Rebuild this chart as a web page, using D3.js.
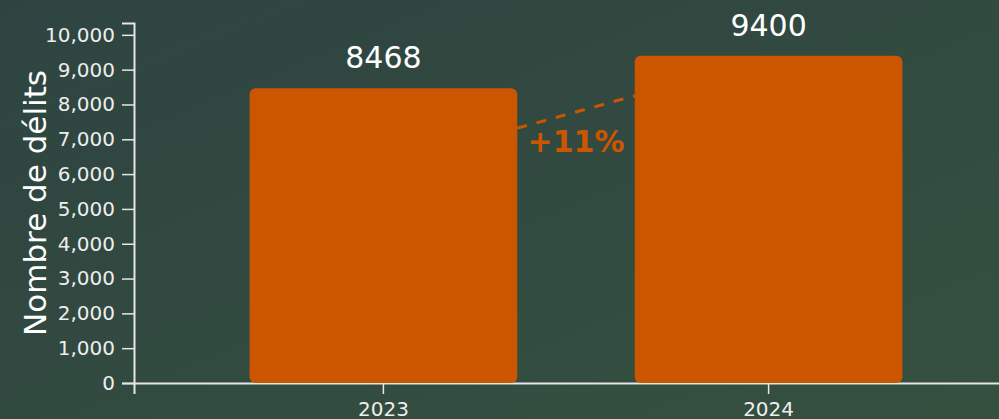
<!DOCTYPE html>
<html lang="fr">
<head>
<meta charset="utf-8">
<script src="https://cdn.jsdelivr.net/npm/d3@7"></script>
<style>
  html, body { margin: 0; padding: 0; background: #31493f; }
  svg { display: block; font-family: 'DejaVu Sans', sans-serif; }
  .axis path, .axis line { stroke: #e6e6e6; }
  .axis text { fill: #eeeeee; font-size: 20px; font-family: 'DejaVu Sans', sans-serif; }
</style>
</head>
<body>
<div id="chart"></div>
<script>
const years = ['2023', '2024'];
const delits = [8468, 9400];
const yTicks = [0, 1000, 2000, 3000, 4000, 5000, 6000, 7000, 8000, 9000, 10000];
const yTitle = 'Nombre de délits';

const BAR_COLOR = '#cc5500';
const width = 999;
const height = 419;

const data = years.map((year, i) => ({ year, value: delits[i] }));

const svg = d3.select('#chart').append('svg')
  .attr('width', width)
  .attr('height', height);

// Fond en dégradé diagonal
const defs = svg.append('defs');
const grad = defs.append('linearGradient')
  .attr('id', 'bg')
  .attr('x1', '0%').attr('y1', '0%')
  .attr('x2', '100%').attr('y2', '100%');
grad.append('stop').attr('offset', '0%').attr('stop-color', '#2e4441');
grad.append('stop').attr('offset', '100%').attr('stop-color', '#35503f');
svg.append('rect')
  .attr('width', width)
  .attr('height', height)
  .attr('fill', 'url(#bg)');

const x = d3.scaleBand()
  .domain(years)
  .range([134, 1018])
  .paddingInner(0.305)
  .paddingOuter(0.3);

const y = d3.scaleLinear()
  .domain([0, d3.max(delits) * 1.1])
  .range([383, 23]);

// --- Axes ---
svg.append('g')
  .attr('class', 'axis axis-y')
  .attr('transform', 'translate(134,0)')
  .call(d3.axisLeft(y).tickValues(yTicks).tickFormat(d3.format(',')).tickSize(12).tickPadding(7))
  .call(g => g.select('.domain').attr('stroke-width', 2))
  .call(g => g.selectAll('.tick line').attr('stroke-width', 1.5));

svg.append('g')
  .attr('class', 'axis axis-x')
  .attr('transform', 'translate(0,383)')
  .call(d3.axisBottom(x).tickSize(11).tickPadding(8))
  .call(g => g.select('.domain').attr('stroke-width', 2))
  .call(g => g.selectAll('.tick line').attr('stroke-width', 1.5));

svg.append('text')
  .attr('transform', `translate(46,${(y.range()[0] + y.range()[1]) / 2}) rotate(-90)`)
  .attr('text-anchor', 'middle')
  .attr('fill', '#ffffff')
  .attr('font-size', 31)
  .text(yTitle);

// --- Barres ---
svg.append('g').selectAll('rect')
  .data(data)
  .join('rect')
  .attr('x', d => x(d.year))
  .attr('y', d => y(d.value))
  .attr('width', x.bandwidth())
  .attr('height', d => y(0) - y(d.value))
  .attr('rx', 6)
  .attr('fill', BAR_COLOR);

svg.append('g').selectAll('text')
  .data(data)
  .join('text')
  .attr('x', d => x(d.year) + x.bandwidth() / 2)
  .attr('y', d => y(d.value) - 20)
  .attr('text-anchor', 'middle')
  .attr('fill', '#ffffff')
  .attr('font-size', 30)
  .text(d => d.value);

// --- Évolution entre les deux années ---
const [a, b] = data;
const x1 = x(a.year) + x.bandwidth();
const y1 = y(a.value) + 40;
const x2 = x(b.year);
const y2 = y(b.value) + 40;

svg.append('line')
  .attr('x1', x1).attr('y1', y1)
  .attr('x2', x2).attr('y2', y2)
  .attr('stroke', BAR_COLOR)
  .attr('stroke-width', 3)
  .attr('stroke-dasharray', '10,10');

const pct = Math.round((b.value - a.value) / a.value * 100);
svg.append('text')
  .attr('x', (x1 + x2) / 2)
  .attr('y', (y1 + y2) / 2 + 40)
  .attr('text-anchor', 'middle')
  .attr('fill', BAR_COLOR)
  .attr('font-size', 30)
  .attr('font-weight', 'bold')
  .text(`${pct >= 0 ? '+' : ''}${pct}%`);
</script>
</body>
</html>
